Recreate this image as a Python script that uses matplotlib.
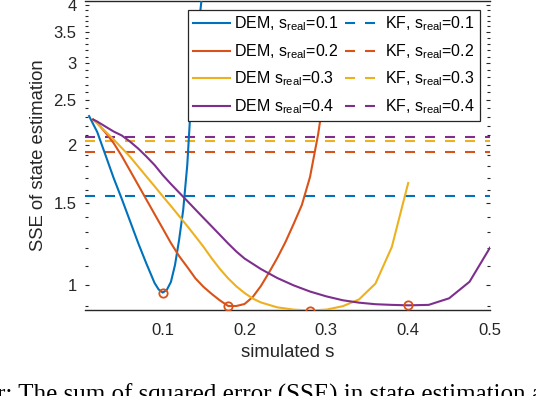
import matplotlib
matplotlib.use("Agg")
import matplotlib.pyplot as plt
from matplotlib.ticker import FixedLocator, NullFormatter

plt.rcParams['font.family'] = ['Liberation Sans', 'DejaVu Sans']
plt.rcParams['mathtext.fontset'] = 'custom'
plt.rcParams['mathtext.rm'] = 'Liberation Sans'
plt.rcParams['mathtext.it'] = 'Liberation Sans:italic'

# ---- data ----
s_dem01 = [0.01, 0.02, 0.03, 0.04, 0.05, 0.06, 0.07, 0.08, 0.09, 0.095, 0.10, 0.105,
           0.11, 0.115, 0.12, 0.125, 0.13, 0.135, 0.15]
sse_dem01 = [2.309, 2.133, 1.904, 1.699, 1.531, 1.373, 1.231, 1.112, 1.010, 0.978, 0.963, 0.976,
             1.015, 1.104, 1.250, 1.449, 1.812, 2.562, 4.53]

s_dem02 = [0.015, 0.02, 0.03, 0.04, 0.05, 0.06, 0.07, 0.08, 0.09, 0.10, 0.11, 0.12, 0.13, 0.14,
           0.15, 0.16, 0.17, 0.18, 0.19, 0.20, 0.21, 0.22, 0.23, 0.24, 0.25, 0.26, 0.27, 0.28,
           0.29, 0.30]
sse_dem02 = [2.27, 2.231, 2.128, 2.020, 1.894, 1.763, 1.641, 1.527, 1.421, 1.323, 1.231, 1.154,
             1.093, 1.033, 0.990, 0.956, 0.926, 0.901, 0.901, 0.910, 0.942, 0.995, 1.064, 1.143,
             1.237, 1.353, 1.486, 1.707, 2.112, 2.787]

s_dem03 = [0.015, 0.02, 0.03, 0.04, 0.05, 0.06, 0.07, 0.08, 0.09, 0.10, 0.11, 0.12, 0.13, 0.14,
           0.15, 0.16, 0.17, 0.18, 0.19, 0.20, 0.21, 0.22, 0.24, 0.26, 0.28, 0.30, 0.32, 0.34,
           0.36, 0.38, 0.40]
sse_dem03 = [2.270, 2.225, 2.139, 2.056, 1.971, 1.888, 1.798, 1.712, 1.631, 1.552, 1.479, 1.407,
             1.339, 1.272, 1.207, 1.140, 1.082, 1.033, 0.993, 0.961, 0.935, 0.917, 0.895, 0.885,
             0.881, 0.885, 0.900, 0.931, 1.007, 1.207, 1.657]

s_dem04 = [0.015, 0.02, 0.03, 0.04, 0.05, 0.06, 0.07, 0.08, 0.09, 0.10, 0.11, 0.12, 0.13, 0.14,
           0.15, 0.16, 0.17, 0.18, 0.19, 0.20, 0.22, 0.24, 0.26, 0.28, 0.30, 0.32, 0.34, 0.36,
           0.38, 0.40, 0.425, 0.45, 0.475, 0.50]
sse_dem04 = [2.270, 2.247, 2.192, 2.139, 2.097, 2.035, 1.966, 1.890, 1.812, 1.724, 1.649, 1.581,
             1.516, 1.453, 1.393, 1.336, 1.281, 1.228, 1.180, 1.140, 1.082, 1.035, 0.998, 0.968,
             0.945, 0.927, 0.916, 0.909, 0.906, 0.904, 0.906, 0.936, 1.016, 1.203]

sse_kf = [1.556, 1.928, 2.043, 2.084]          # KF for s_real = 0.1 .. 0.4
s_real = ['0.1', '0.2', '0.3', '0.4']

min_s = [0.10, 0.18, 0.28, 0.40]
min_sse = [0.963, 0.901, 0.881, 0.904]

dem_labels = ['DEM, s$_{\\mathrm{real}}$=0.1', 'DEM, s$_{\\mathrm{real}}$=0.2',
              'DEM s$_{\\mathrm{real}}$=0.3', 'DEM s$_{\\mathrm{real}}$=0.4']
kf_labels = ['KF, s$_{\\mathrm{real}}$=' + v for v in s_real]

x_ticks = [0.1, 0.2, 0.3, 0.4, 0.5]
x_ticklabels = ['0.1', '0.2', '0.3', '0.4', '0.5']
y_ticks = [1, 1.5, 2, 2.5, 3, 3.5, 4]
y_ticklabels = ['1', '1.5', '2', '2.5', '3', '3.5', '4']

caption = 'r: The sum of squared error (SSE) in state estimation a'

colors = ['#0072BD', '#D95319', '#EDB120', '#7E2F8E']

# ---- figure ----
W, H = 536, 396
fig = plt.figure(figsize=(W / 100, H / 100), dpi=100)
ax = fig.add_axes([85 / W, 1 - 310.3 / H, 405 / W, 309.6 / H])

xlim = (0.005, 0.5)
ylim = (0.882, 4.09)

dem_series = [(s_dem01, sse_dem01), (s_dem02, sse_dem02), (s_dem03, sse_dem03), (s_dem04, sse_dem04)]
dem_handles = []
for (sx, sy), c, lab in zip(dem_series, colors, dem_labels):
    h, = ax.plot(sx, sy, color=c, lw=1.5, label=lab, zorder=3, solid_joinstyle='round')
    dem_handles.append(h)

kf_handles = []
for v, c, lab in zip(sse_kf, colors, kf_labels):
    h, = ax.plot(list(xlim), [v, v], color=c, lw=1.5, ls=(0, (4.8, 4.8)), label=lab, zorder=2)
    kf_handles.append(h)

ax.plot(min_s, min_sse, 'o', mfc='none', mec='#D95319', mew=1.3, ms=6, zorder=4)

ax.set_yscale('log')
ax.set_xlim(*xlim)
ax.set_ylim(*ylim)

ax.yaxis.set_major_locator(FixedLocator(y_ticks))
ax.set_yticklabels(y_ticklabels)
minor = [round(0.9 + 0.1 * i, 2) for i in range(32)]
minor = [m for m in minor if m not in y_ticks and m <= 4.0]
ax.yaxis.set_minor_locator(FixedLocator(minor))
ax.yaxis.set_minor_formatter(NullFormatter())
ax.set_xticks(x_ticks)
ax.set_xticklabels(x_ticklabels)

ax.tick_params(axis='y', which='both', direction='in', left=True, right=True,
               length=3, width=0.8, labelsize=12, pad=6, color='#262626', labelcolor='#262626')
ax.tick_params(axis='y', which='minor', length=2)
ax.tick_params(axis='x', which='both', length=0, labelsize=12, pad=9, labelcolor='#262626')

for side in ['left', 'right']:
    ax.spines[side].set_visible(False)
for side in ['top', 'bottom']:
    ax.spines[side].set_linewidth(1.0)
    ax.spines[side].set_color('#262626')

ax.set_xlabel('simulated s', fontsize=13.3, color='#262626', va='center')
ax.xaxis.set_label_coords(0.5, -0.135)
ax.set_ylabel('SSE of state estimation', fontsize=13.3, color='#262626', va='center')
ax.yaxis.set_label_coords(-0.116, 0.5)

leg = ax.legend(handles=dem_handles + kf_handles, ncol=2, loc='upper right',
                bbox_to_anchor=(0.975, 0.970), fontsize=11.5, frameon=True, fancybox=False,
                edgecolor='#262626', framealpha=1, borderpad=0.3, labelspacing=0.55,
                handlelength=2.3, handletextpad=0.25, columnspacing=0.4, borderaxespad=0)
leg.get_frame().set_linewidth(0.9)

fig.text(-3 / W, -6 / H, caption, family='Liberation Serif', fontsize=18, va='baseline', ha='left')

fig.savefig('out.png', dpi=100)
